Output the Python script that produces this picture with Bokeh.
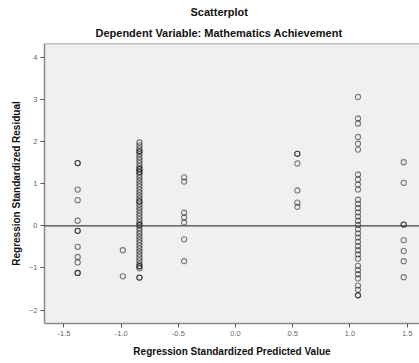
from bokeh.plotting import figure
from bokeh.models import Range1d, FixedTicker, Span, Title, NumeralTickFormatter, ColumnDataSource
from bokeh.embed import file_html
from bokeh.resources import INLINE

# Standardized predicted value of each group of cases
pred_levels = [-1.38, -0.985, -0.84, -0.45, 0.54, 1.07, 1.47]

# Standardized residuals within each predicted-value group (repeats = overlapping cases)
resid_a = [1.49, 1.49, 0.86, 0.61, 0.12, -0.12, -0.12, -0.50, -0.74, -0.87, -1.12, -1.12]
resid_b = [-0.58, -1.20]
resid_c = [1.98, 1.91, 1.84, 1.77, 1.77, 1.70, 1.63, 1.56, 1.49, 1.42, 1.35, 1.35,
           1.28, 1.28, 1.21, 1.14, 1.07, 1.00, 0.93, 0.86, 0.79, 0.72, 0.65, 0.58,
           0.58, 0.51, 0.44, 0.37, 0.30, 0.23, 0.16, 0.09, 0.02, 0.02, -0.05, -0.12,
           -0.19, -0.26, -0.33, -0.40, -0.47, -0.54, -0.61, -0.68, -0.75, -0.82,
           -0.89, -0.96, -0.96, -1.01, -1.23, -1.23]
resid_d = [1.15, 1.05, 0.31, 0.20, 0.08, -0.32, -0.84]
resid_e = [1.71, 1.71, 1.48, 0.84, 0.55, 0.45]
resid_f = [3.06, 2.55, 2.43, 2.11, 1.95, 1.81, 1.22, 1.10, 0.98, 0.86, 0.62, 0.52,
           0.42, 0.32, 0.22, 0.12, 0.02, -0.08, -0.18, -0.28, -0.38, -0.48, -0.58,
           -0.68, -0.78, -0.95, -1.05, -1.15, -1.25, -1.42, -1.52, -1.65, -1.65]
resid_g = [1.51, 1.02, 0.03, 0.03, -0.34, -0.60, -0.84, -1.22]

x_ticks = [-1.5, -1.0, -0.5, 0.0, 0.5, 1.0, 1.5]
y_ticks = [-2, -1, 0, 1, 2, 3, 4]

groups = [resid_a, resid_b, resid_c, resid_d, resid_e, resid_f, resid_g]
xs, ys = [], []
for level, resids in zip(pred_levels, groups):
    xs.extend([level] * len(resids))
    ys.extend(resids)
src = ColumnDataSource(dict(x=xs, y=ys))

FONT = "Liberation Sans"
EDGE = "#8a8a8a"

p = figure(width=419, height=363,
           x_range=Range1d(-1.670, 1.608), y_range=Range1d(-2.32, 4.33),
           output_backend="svg", toolbar_location=None,
           min_border_left=44, min_border_right=0, min_border_top=43, min_border_bottom=40)

p.background_fill_color = "#f0f0f0"
p.border_fill_color = "white"
p.outline_line_color = None
p.grid.visible = False

# Titles, stacked outward from the frame
sub = Title(text="Dependent Variable: Mathematics Achievement", align="left", offset=51,
            text_font=FONT, text_font_size="11px", text_font_style="bold",
            text_color="#111111", standoff=10)
main = Title(text="Scatterplot", align="left", offset=146,
             text_font=FONT, text_font_size="11px", text_font_style="bold",
             text_color="#111111", standoff=3)
p.add_layout(sub, "above")
p.add_layout(main, "above")

for ax in (p.xaxis[0], p.yaxis[0]):
    ax.axis_line_color = EDGE
    ax.axis_line_width = 1.5
    ax.major_tick_line_color = "#555555"
    ax.major_tick_in = 0
    ax.major_tick_out = 4
    ax.minor_tick_line_color = None
    ax.major_label_text_font = FONT
    ax.major_label_text_font_size = "7.5px"
    ax.major_label_text_color = "#666666"
    ax.axis_label_text_font = FONT
    ax.axis_label_text_font_size = "10px"
    ax.axis_label_text_font_style = "bold"
    ax.axis_label_text_color = "#111111"

p.xaxis.ticker = FixedTicker(ticks=x_ticks)
p.xaxis.formatter = NumeralTickFormatter(format="0.0")
p.xaxis.axis_label = "Regression Standardized Predicted Value"
p.xaxis.major_label_standoff = 3
p.xaxis.axis_label_standoff = 7

p.yaxis.ticker = FixedTicker(ticks=y_ticks)
p.yaxis.axis_label = "Regression Standardized Residual"
p.yaxis.major_label_standoff = 3
p.yaxis.axis_label_standoff = 4

# Top edge of the plot frame
p.add_layout(Span(location=4.33, dimension="width", line_color=EDGE, line_width=1.5))

# Zero-residual reference line
p.add_layout(Span(location=0, dimension="width", line_color="#444444", line_width=1.3))

p.scatter("x", "y", source=src, marker="circle", size=5.2, fill_color=None,
          line_color="#000000", line_alpha=0.5, line_width=1.1)

open("out.html", "w").write(file_html(p, INLINE))
